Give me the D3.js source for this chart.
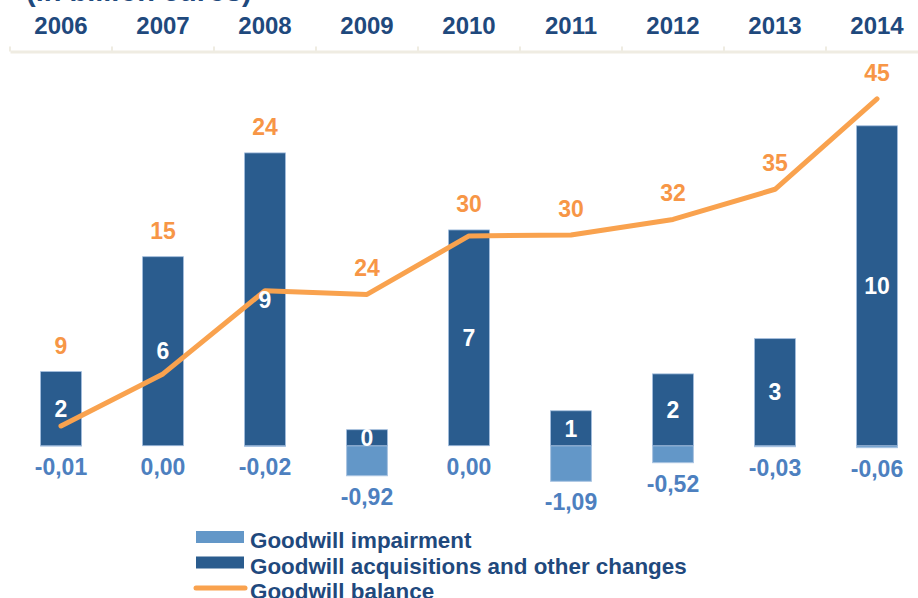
<!DOCTYPE html>
<html>
<head>
<meta charset="utf-8">
<script src="https://cdn.jsdelivr.net/npm/d3@7"></script>
<style>
    body { margin: 0; background: #fff; }
    svg { display: block; font-family: "Liberation Sans", Arial, sans-serif; font-weight: bold; }
</style>
</head>
<body>
<div id="viz"></div>
<script>
const years = ['2006', '2007', '2008', '2009', '2010', '2011', '2012', '2013', '2014'];
const acquisitions = [2.27, 5.79, 8.97, 0.49, 6.61, 1.07, 2.2, 3.28, 9.8];
const impairments = [-0.01, 0.00, -0.02, -0.92, 0.00, -1.09, -0.52, -0.03, -0.06];
const balance = [9.3, 15, 24.1, 23.7, 30.1, 30.2, 31.9, 35.2, 45.1];
const legendNames = ['Goodwill impairment', 'Goodwill acquisitions and other changes', 'Goodwill balance'];
const title = '(in billion euros)';

document.addEventListener("DOMContentLoaded", () => {
    const width = 918;
    const height = 598;

    const colors = {
        acq: '#2a5c8e',
        imp: '#6397c8',
        line: '#f9a24e',
        lineLabel: '#f79646',
        impLabel: '#4d80bf',
        text: '#1f497d',
        axis: '#efece2'
    };

    const svg = d3.select('#viz').append('svg')
        .attr('width', width)
        .attr('height', height);

    const x = d3.scaleBand()
        .domain(years)
        .range([10, 928])
        .paddingInner(0.6)
        .paddingOuter(0.3);

    const cx = d => x(d) + x.bandwidth() / 2;

    const y = d3.scaleLinear().domain([-2, 12]).range([511, 54]);
    const y2 = d3.scaleLinear().domain([0, 50]).range([511, 54]);

    const euro = d3.formatLocale({ decimal: ',', thousands: '.', grouping: [3], currency: ['', '€'], minus: '-' });
    const fmt2 = euro.format('.2f');
    const fmt0 = euro.format('.0f');

    // title, mostly cut off at the top
    svg.append('text')
        .attr('x', 26)
        .attr('y', 1)
        .attr('fill', colors.text)
        .style('font-size', '29px')
        .text(title);

    // top category axis
    const axisG = svg.append('g')
        .attr('transform', 'translate(0,51.5)')
        .call(d3.axisTop(x).tickSize(0).tickSizeOuter(0).tickPadding(18));
    axisG.select('.domain')
        .attr('stroke', colors.axis)
        .attr('stroke-width', 3);
    axisG.selectAll('text')
        .attr('fill', colors.text)
        .style('font-size', '24px')
        .style('font-family', '"Liberation Sans", Arial, sans-serif')
        .style('font-weight', 'bold');

    const step = x.step();
    axisG.selectAll('.bound')
        .data(years)
        .enter()
        .append('line')
        .attr('class', 'bound')
        .attr('x1', (d, i) => 10 + i * step)
        .attr('x2', (d, i) => 10 + i * step)
        .attr('y1', -5)
        .attr('y2', 0)
        .attr('stroke', colors.axis)
        .attr('stroke-width', 2);

    // impairment bars
    svg.selectAll('.imp')
        .data(years)
        .enter()
        .append('rect')
        .attr('class', 'imp')
        .attr('x', d => x(d))
        .attr('width', x.bandwidth())
        .attr('y', y(0))
        .attr('height', (d, i) => y(impairments[i]) - y(0))
        .attr('fill', colors.imp)
        .attr('stroke', '#a9c4e2')
        .attr('stroke-width', 1);

    // acquisition bars
    svg.selectAll('.acq')
        .data(years)
        .enter()
        .append('rect')
        .attr('class', 'acq')
        .attr('x', d => x(d))
        .attr('width', x.bandwidth())
        .attr('y', (d, i) => y(acquisitions[i]))
        .attr('height', (d, i) => y(0) - y(acquisitions[i]))
        .attr('fill', colors.acq)
        .attr('stroke', '#9fbbdc')
        .attr('stroke-width', 0.8);

    // balance line
    const line = d3.line()
        .x((d, i) => cx(years[i]))
        .y(d => y2(d));

    svg.append('path')
        .datum(balance)
        .attr('d', line)
        .attr('fill', 'none')
        .attr('stroke', colors.line)
        .attr('stroke-width', 5)
        .attr('stroke-linecap', 'round')
        .attr('stroke-linejoin', 'round');

    // labels inside the bars
    svg.selectAll('.acqLabel')
        .data(years)
        .enter()
        .append('text')
        .attr('class', 'acqLabel')
        .attr('x', d => cx(d))
        .attr('y', (d, i) => (y(acquisitions[i]) + y(0)) / 2)
        .attr('dy', '0.36em')
        .attr('text-anchor', 'middle')
        .attr('fill', '#fff')
        .style('font-size', '23px')
        .text((d, i) => fmt0(acquisitions[i]));

    // impairment labels below
    svg.selectAll('.impLabel')
        .data(years)
        .enter()
        .append('text')
        .attr('class', 'impLabel')
        .attr('x', d => cx(d))
        .attr('y', (d, i) => y(impairments[i]) + 29)
        .attr('text-anchor', 'middle')
        .attr('fill', colors.impLabel)
        .style('font-size', '23px')
        .text((d, i) => fmt2(impairments[i]));

    // balance labels above
    svg.selectAll('.balLabel')
        .data(years)
        .enter()
        .append('text')
        .attr('class', 'balLabel')
        .attr('x', d => cx(d))
        .attr('y', (d, i) => Math.min(y(acquisitions[i]), y2(balance[i])) - 18)
        .attr('text-anchor', 'middle')
        .attr('fill', colors.lineLabel)
        .style('font-size', '23px')
        .text((d, i) => fmt0(balance[i]));

    // legend
    const legend = svg.append('g')
        .attr('transform', 'translate(196,537)');

    const items = legend.selectAll('g')
        .data(legendNames)
        .enter()
        .append('g')
        .attr('transform', (d, i) => `translate(0,${i * 25.5})`);

    items.filter((d, i) => i < 2)
        .append('rect')
        .attr('x', 0)
        .attr('y', -6)
        .attr('width', 48)
        .attr('height', 12)
        .attr('fill', (d, i) => i === 0 ? colors.imp : colors.acq);

    items.filter((d, i) => i === 2)
        .append('line')
        .attr('x1', 0)
        .attr('x2', 49)
        .attr('stroke', colors.line)
        .attr('stroke-width', 5)
        .attr('stroke-linecap', 'round');

    items.append('text')
        .attr('x', 54)
        .attr('y', 11)
        .attr('fill', colors.text)
        .style('font-size', '22.4px')
        .text(d => d);
});
</script>
</body>
</html>
